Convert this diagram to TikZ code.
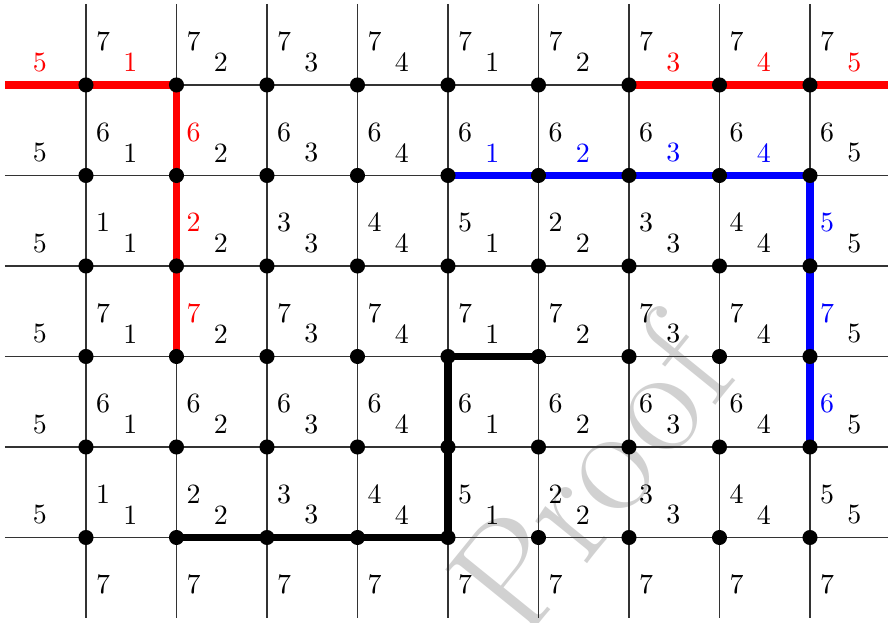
\documentclass[tikz,border=0pt]{standalone}
\usetikzlibrary{backgrounds}
\begin{document}
\begin{tikzpicture}[
    x=1.14cm, y=1.14cm,
    font=\normalsize,
    gridline/.style={draw=black!80, line width=0.45pt},
    dot/.style={circle, fill=black, inner sep=0pt, minimum size=5.4pt},
    route/.style={line width=2.7pt},
    lab/.style={inner sep=0pt, anchor=center},
    redlab/.style={text=red},
    bluelab/.style={text=blue},
    watermark/.style={text=black!18, font=\fontsize{56}{56}\selectfont, rotate=51},
    % coloured labels along the marked routes
    tint b0-6/.style=redlab, tint b1-6/.style=redlab, tint b7-6/.style=redlab,
    tint b8-6/.style=redlab, tint b9-6/.style=redlab,
    tint t2-5/.style=redlab, tint t2-4/.style=redlab, tint t2-3/.style=redlab,
    tint b5-5/.style=bluelab, tint b6-5/.style=bluelab, tint b7-5/.style=bluelab,
    tint b8-5/.style=bluelab,
    tint t9-4/.style=bluelab, tint t9-3/.style=bluelab, tint t9-2/.style=bluelab
]
% ---------------- frame ----------------
\coordinate (bl) at (0.05,0.066);
\coordinate (tr) at (9.862,6.939);
\useasboundingbox (bl) rectangle (tr);
% ---------------- grid points ----------------
\foreach \c in {1,...,9}
  \foreach \r in {1,...,6}
    \node[dot] (p\c-\r) at (\c,\r) {};
% ---------------- labels ----------------
\foreach \r in {1,...,6}
  \foreach [count=\c from 0] \v in {5,1,2,3,4,1,2,3,4,5}
    \node[lab, tint b\c-\r/.try] (b\c-\r) at (\c+0.49,\r+0.25) {\v};
\foreach \r/\vals in {6/{7,7,7,7,7,7,7,7,7}, 5/{6,6,6,6,6,6,6,6,6},
                      4/{1,2,3,4,5,2,3,4,5}, 3/{7,7,7,7,7,7,7,7,7},
                      2/{6,6,6,6,6,6,6,6,6}, 1/{1,2,3,4,5,2,3,4,5},
                      0/{7,7,7,7,7,7,7,7,7}}
  \foreach [count=\c] \v in \vals
    \node[lab, tint t\c-\r/.try] (t\c-\r) at (\c+0.19,\r+0.48) {\v};
% ---------------- lines and routes ----------------
\begin{scope}[on background layer]
  \node[watermark] (proof) at (6.56,1.68) {Proof};
  \foreach \c in {1,...,9} {
    \coordinate (v\c-top) at (\c,6.895);
    \coordinate (v\c-bot) at (\c,0.11);
    \draw[gridline] (v\c-top) -- (v\c-bot);
  }
  \foreach \r in {1,...,6} {
    \coordinate (h\r-left) at (0.105,\r);
    \coordinate (h\r-right) at (9.862,\r);
    \draw[gridline] (h\r-left) -- (h\r-right);
  }
  \draw[route, red] (h6-left) -- (p1-6.center) -- (p2-6.center) -- (p2-5.center)
    -- (p2-4.center) -- (p2-3.center);
  \draw[route, red] (p7-6.center) -- (p8-6.center) -- (p9-6.center) -- (h6-right);
  \draw[route, blue] (p5-5.center) -- (p6-5.center) -- (p7-5.center) -- (p8-5.center)
    -- (p9-5.center) -- (p9-4.center) -- (p9-3.center) -- (p9-2.center);
  \draw[route] (p2-1.center) -- (p3-1.center) -- (p4-1.center) -- (p5-1.center)
    -- (p5-2.center) -- (p5-3.center) -- (p6-3.center);
\end{scope}
\end{tikzpicture}
\end{document}
